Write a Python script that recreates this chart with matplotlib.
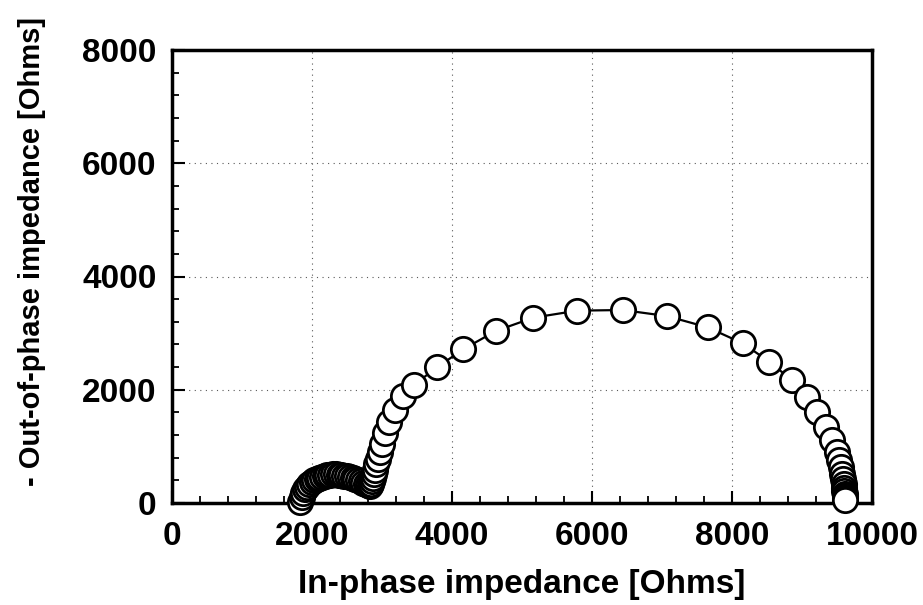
import numpy as np
import matplotlib
matplotlib.use("Agg")
import matplotlib.pyplot as plt
from matplotlib.ticker import MultipleLocator

# impedance spectrum (high freq at left)
z_real = [1830, 1850, 1875, 1900, 1930, 1960, 1995, 2030, 2065, 2100,
          2140, 2180, 2220, 2260, 2300, 2340, 2380, 2420, 2460, 2500,
          2540, 2580, 2620, 2660, 2700, 2735, 2770, 2800, 2825,
          2845, 2860, 2872, 2885, 2900, 2918, 2940, 2965, 3000, 3045,
          3100, 3180, 3300, 3450, 3790, 4160, 4624, 5162, 5790, 6438,
          7067, 7652, 8152, 8533, 8852, 9067, 9210, 9340, 9430, 9495,
          9530, 9556, 9574, 9588, 9597, 9603, 9607, 9609, 9610, 9610,
          9608]
z_imag = [20, 110, 180, 240, 290, 335, 370, 400, 425, 445,
          465, 480, 492, 500, 505, 505, 500, 492, 482, 470,
          455, 440, 422, 402, 380, 358, 336, 318, 305,
          330, 380, 440, 510, 590, 680, 780, 900, 1050, 1230,
          1430, 1650, 1890, 2080, 2400, 2714, 3037, 3273, 3397, 3408,
          3302, 3102, 2820, 2496, 2172, 1870, 1610, 1340, 1110, 906,
          760, 630, 520, 420, 340, 270, 210, 160, 115, 80,
          50]

x_ticks = [0, 2000, 4000, 6000, 8000, 10000]
y_ticks = [0, 2000, 4000, 6000, 8000]

plt.rcParams['font.family'] = ['Liberation Sans', 'DejaVu Sans']
plt.rcParams['font.weight'] = 'bold'
plt.rcParams['axes.labelweight'] = 'bold'

fig = plt.figure(figsize=(9.23, 6.05), dpi=100)
ax = fig.add_axes([172/923, 102/605, 700/923, 453/605])

ax.plot(z_real, z_imag, color='black', lw=1.6, marker='o', ms=17.5,
        mfc='white', mec='black', mew=2.0, clip_on=False, zorder=3)

ax.set_xlim(0, 10000)
ax.set_ylim(0, 8000)
ax.set_xticks(x_ticks)
ax.set_yticks(y_ticks)
ax.xaxis.set_minor_locator(MultipleLocator(400))
ax.yaxis.set_minor_locator(MultipleLocator(400))

ax.grid(True, which='major', color='0.35', lw=0.8, linestyle=(0, (1, 4)))
ax.tick_params(which='major', direction='in', length=9, width=1.5,
               labelsize=24, top=False, right=False)
ax.tick_params(axis='x', which='major', pad=13)
ax.tick_params(axis='y', which='major', pad=11)
ax.tick_params(which='minor', direction='in', length=5, width=1.3,
               top=False, right=False)
for s in ax.spines.values():
    s.set_linewidth(2.5)

ax.set_xlabel('In-phase impedance [Ohms]', fontsize=24, labelpad=12)
ax.set_ylabel('- Out-of-phase impedance [Ohms]', fontsize=21)
ax.yaxis.set_label_coords(-0.18, 0.555)

fig.savefig('out.png', dpi=100)
